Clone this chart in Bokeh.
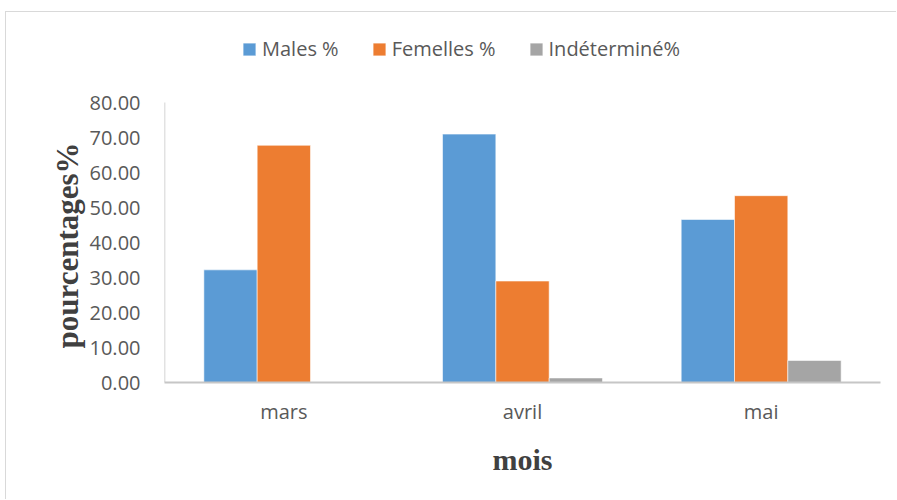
from bokeh.plotting import figure
from bokeh.models import (ColumnDataSource, FactorRange, Range1d, FixedTicker,
                          PrintfTickFormatter, Legend, LegendItem, Title)
from bokeh.transform import dodge
from bokeh.embed import file_html
from bokeh.resources import INLINE

months = ["mars", "avril", "mai"]
males = [32.2, 71.0, 46.6]
femelles = [67.8, 29.0, 53.4]
indetermine = [0.0, 1.3, 6.3]
y_ticks = [0, 10, 20, 30, 40, 50, 60, 70, 80]
series_names = ["Males %", "Femelles %", "Indéterminé%"]
colors = ["#5B9BD5", "#ED7D31", "#A5A5A5"]
x_title = "mois"
y_title = "pourcentages%"

src = ColumnDataSource(data=dict(months=months, males=males,
                                 femelles=femelles, indetermine=indetermine))

# layout (canvas pixels): frame spans the whole height down to the x axis,
# so the legend can sit inside it; the value axis covers 0..80 only.
frame_bottom = 369.5
axis_top_px = 90.0
y_end = y_ticks[-1] * frame_bottom / (frame_bottom - axis_top_px)

p = figure(width=891, height=488, output_backend="svg", toolbar_location=None,
           x_range=FactorRange(factors=months, range_padding=0),
           y_range=Range1d(0, y_end),
           min_border_left=158, min_border_right=17,
           min_border_top=0, min_border_bottom=118)
p.margin = (11, 0, 0, 5)
p.styles = {"border-left": "1px solid #d9d9d9", "border-top": "1px solid #d9d9d9"}

bw = 0.2234
cols = ["males", "femelles", "indetermine"]
offsets = [-bw, 0.0, bw]
renderers = []
for col, off, c in zip(cols, offsets, colors):
    r = p.vbar(x=dodge("months", off, range=p.x_range), top=col, width=bw,
               source=src, fill_color=c, line_color="white", line_width=0.8,
               line_alpha=0.7)
    renderers.append(r)

# value-axis line from first to last tick
axsrc = ColumnDataSource(data=dict(m=[months[0]], y0=[y_ticks[0]], y1=[y_ticks[-1]]))
p.segment(x0=dodge("m", -0.5, range=p.x_range), x1=dodge("m", -0.5, range=p.x_range),
          y0="y0", y1="y1", source=axsrc, line_color="#c6c6c6", line_width=1.5)

p.xgrid.visible = False
p.ygrid.visible = False
p.outline_line_color = None
p.background_fill_color = "white"
p.border_fill_color = "white"

tick_color = "#595959"
p.yaxis.ticker = FixedTicker(ticks=y_ticks)
p.yaxis.formatter = PrintfTickFormatter(format="%.2f")
for ax in (p.xaxis[0], p.yaxis[0]):
    ax.major_tick_line_color = None
    ax.minor_tick_line_color = None
    ax.major_tick_out = 0
    ax.major_tick_in = 0
    ax.minor_tick_out = 0
    ax.major_label_text_font = "Open Sans"
    ax.major_label_text_font_size = "20px"
    ax.major_label_text_color = tick_color
    ax.axis_label_text_font = "Liberation Serif"
    ax.axis_label_text_font_style = "bold"
    ax.axis_label_text_font_size = "30px"
    ax.axis_label_text_color = "#404040"

p.xaxis.axis_line_color = "#c6c6c6"
p.xaxis.axis_line_width = 2
p.yaxis.axis_line_color = None
p.yaxis.major_label_standoff = 24
p.xaxis.major_label_standoff = 15
p.xaxis.axis_label = x_title
p.xaxis.axis_label_standoff = 15

yt = Title(text=y_title, align="left", offset=34, standoff=4,
           text_font="Liberation Serif", text_font_style="bold",
           text_font_size="31px", text_color="#404040")
p.add_layout(yt, "left")

legend = Legend(items=[LegendItem(label=n, renderers=[r]) for n, r in zip(series_names, renderers)],
                orientation="horizontal", location=(77, 320),
                label_text_font="Open Sans", label_text_font_size="20px",
                label_text_color=tick_color, glyph_width=16, glyph_height=16,
                label_standoff=5, spacing=32, padding=0, margin=0,
                border_line_color=None, background_fill_alpha=0)
p.add_layout(legend, "center")

open("out.html", "w").write(file_html(p, INLINE))
